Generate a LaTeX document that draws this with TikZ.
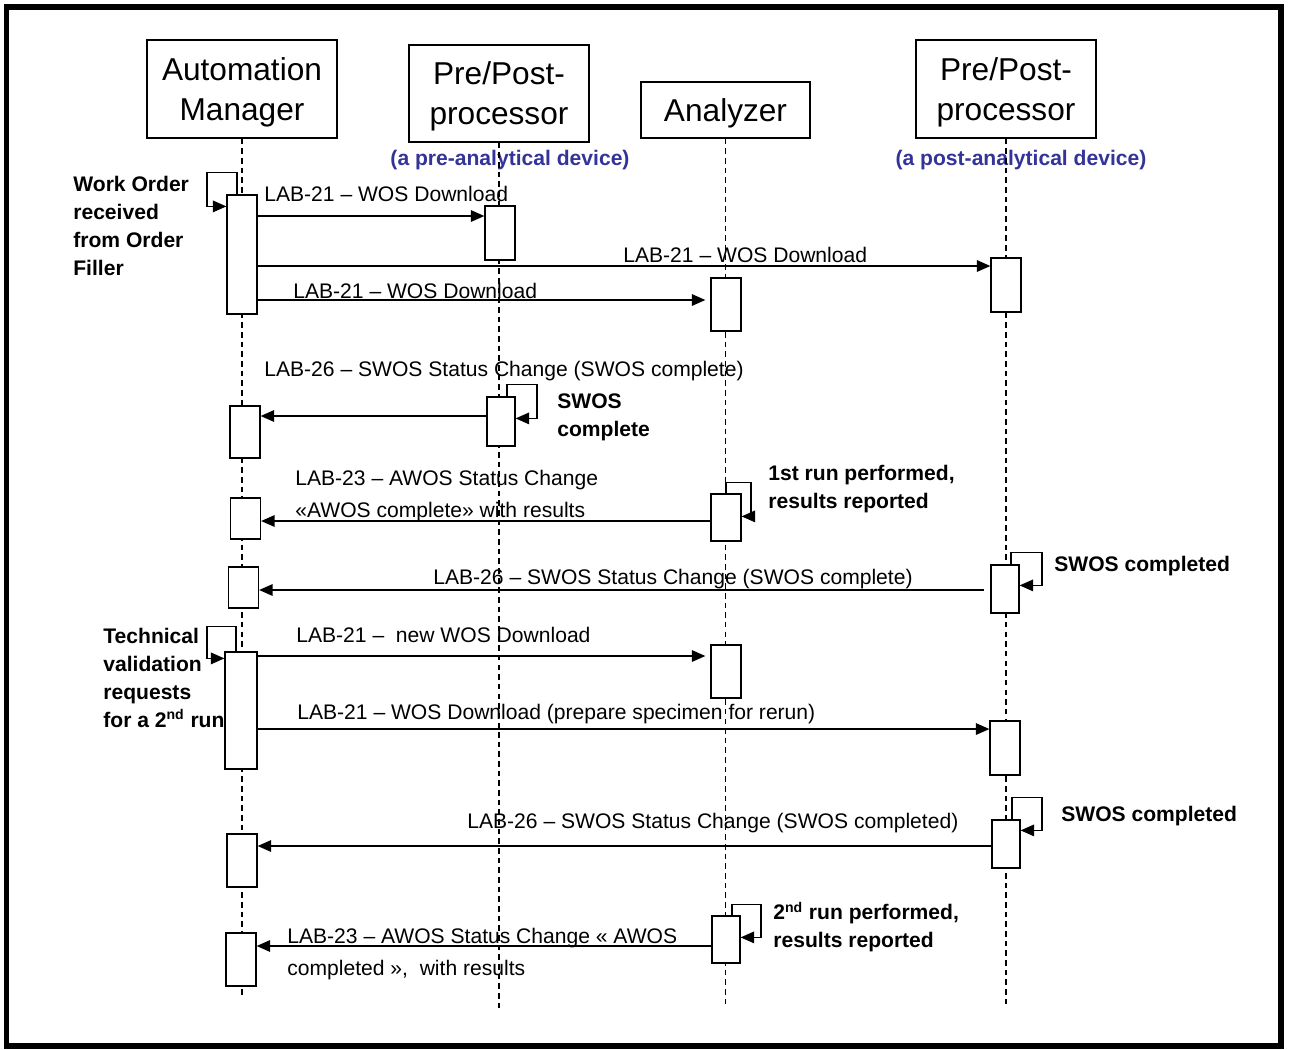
\documentclass[tikz,border=0pt]{standalone}
\usepackage{fontspec}
\setmainfont{Liberation Sans}
\usetikzlibrary{arrows.meta}
\definecolor{bleu}{RGB}{51,51,153}
\tikzset{
  acteur/.style={draw, line width=0.8pt, align=center, inner sep=0pt, text depth=0pt, font=\fontsize{18}{22.8}\selectfont},
  activ/.style={draw, line width=0.7pt, fill=white, minimum width=0.6cm, inner sep=0pt},
  vie/.style={line width=0.6pt, dash pattern=on 3.2pt off 2.3pt},
  msg/.style={line width=0.9pt, -{Triangle[length=0.27cm,width=0.23cm]}},
  lbl/.style={anchor=west, inner sep=0pt, align=left, font=\fontsize{12}{18.2}\selectfont},
  note/.style={anchor=west, inner sep=0pt, align=left, font=\bfseries\fontsize{12}{15.8}\selectfont},
  appareil/.style={inner sep=0pt, text=bleu, font=\bfseries\fontsize{12}{14}\selectfont},
}
\begin{document}
\begin{tikzpicture}[x=0.02cm, y=-0.02cm]
  \useasboundingbox (0,0) rectangle (1290,1049);
  \draw[line width=0.12cm] (6.5,6.5) rectangle (1281,1045.5);

  % Acteurs
  \node[acteur, minimum width=3.8cm, minimum height=1.96cm] (am) at (242,89) {Automation\\Manager};
  \node[acteur, minimum width=3.6cm, minimum height=1.94cm] (pre) at (499,93.5) {Pre/Post-\\processor};
  \node[acteur, minimum width=3.38cm, minimum height=1.12cm] (ana) at (725.5,110) {Analyzer};
  \node[acteur, minimum width=3.6cm, minimum height=1.96cm] (post) at (1006,89) {Pre/Post-\\processor};
  \node[appareil] (dpre) at (510,160) {(a pre-analytical device)};
  \node[appareil] (dpost) at (1021,160) {(a post-analytical device)};

  % Lignes de vie
  \coordinate (amF) at (242,997);
  \coordinate (preF) at (499,1012);
  \coordinate (anaF) at (725.5,1006);
  \coordinate (postF) at (1006,1006);
  \draw[vie] (am.south) -- (amF);
  \draw[vie] (pre.south) -- (preF);
  \draw[vie] (ana.south) -- (anaF);
  \draw[vie] (post.south) -- (postF);

  % Activations
  \node[activ, minimum height=2.38cm] (a1) at (242,254.5) {};
  \node[activ, minimum height=1.04cm] (a2) at (245,432) {};
  \node[activ, minimum height=0.82cm] (a3) at (245.5,518.5) {};
  \node[activ, minimum height=0.82cm] (a4) at (243.5,587.5) {};
  \node[activ, minimum height=2.34cm, minimum width=0.64cm] (a5) at (241,710.5) {};
  \node[activ, minimum height=1.06cm] (a6) at (242,860.5) {};
  \node[activ, minimum height=1.06cm] (a7) at (241,959.5) {};
  \node[activ, minimum height=1.08cm] (p1) at (500,233) {};
  \node[activ, minimum height=0.98cm, minimum width=0.56cm] (p2) at (501,421.5) {};
  \node[activ, minimum height=1.06cm] (n1) at (726,304.5) {};
  \node[activ, minimum height=0.94cm] (n2) at (726,517.5) {};
  \node[activ, minimum height=1.06cm] (n3) at (726,671.5) {};
  \node[activ, minimum height=0.94cm, minimum width=0.56cm] (n4) at (726,939.5) {};
  \node[activ, minimum height=1.08cm] (q1) at (1006,285) {};
  \node[activ, minimum height=0.96cm, minimum width=0.56cm] (q2) at (1005,589) {};
  \node[activ, minimum height=1.08cm] (q3) at (1005,748) {};
  \node[activ, minimum height=0.96cm, minimum width=0.56cm] (q4) at (1006,844) {};

  % Boucles
  \draw[msg] ([xshift=-0.1cm]a1.north) |- ++(-30,-22) |- ([yshift=-0.24cm]a1.north west);
  \draw[msg] ([xshift=0.12cm]p2.north) |- ++(30,-12) |- ([yshift=-0.44cm]p2.north east);
  \draw[msg] (n2.north) |- ++(25,-11) |- ([yshift=-0.46cm]n2.north east);
  \draw[msg] ([xshift=0.12cm]q2.north) |- ++(31,-12) |- ([yshift=-0.42cm]q2.north east);
  \draw[msg] ([xshift=-0.1cm]a5.north) |- ++(-29,-25) |- ([yshift=-0.14cm]a5.north west);
  \draw[msg] ([xshift=0.12cm]q4.north) |- ++(30,-22) |- ([yshift=-0.22cm]q4.north east);
  \draw[msg] ([xshift=0.12cm]n4.north) |- ++(29,-11) |- ([yshift=-0.44cm]n4.north east);

  % Messages
  \coordinate (y1) at (0,216);
  \coordinate (y2) at (0,266);
  \coordinate (y3) at (0,300);
  \coordinate (y4) at (0,416);
  \coordinate (y5) at (0,521);
  \coordinate (y6) at (0,590);
  \coordinate (y7) at (0,656);
  \coordinate (y8) at (0,729);
  \coordinate (y9) at (0,846);
  \coordinate (y10) at (0,946);
  \draw[msg] (a1.east |- y1) -- (p1.west |- y1);
  \draw[msg] (a1.east |- y2) -- (q1.west |- y2);
  \draw[msg, shorten >=0.1cm] (a1.east |- y3) -- (n1.west |- y3);
  \draw[msg] (p2.west |- y4) -- (a2.east |- y4);
  \draw[msg] (n2.west |- y5) -- (a3.east |- y5);
  \draw[msg, shorten <=0.12cm] (q2.west |- y6) -- (a4.east |- y6);
  \draw[msg, shorten >=0.1cm] (a5.east |- y7) -- (n3.west |- y7);
  \draw[msg] (a5.east |- y8) -- (q3.west |- y8);
  \draw[msg] (q4.west |- y9) -- (a6.east |- y9);
  \draw[msg] (n4.west |- y10) -- (a7.east |- y10);

  % Textes
  \node[lbl] (t1) at (264,194) {LAB-21 – WOS Download};
  \node[lbl] (t2) at (623,255) {LAB-21 – WOS Download};
  \node[lbl] (t3) at (293,291) {LAB-21 – WOS Download};
  \node[lbl] (t4) at (264,371) {LAB-26 – SWOS Status Change (SWOS complete)};
  \node[lbl] (t5) at (295,496) {LAB-23 – AWOS Status Change\\«AWOS complete» with results};
  \node[lbl] (t6) at (433,579) {LAB-26 – SWOS Status Change (SWOS complete)};
  \node[lbl] (t7) at (296,635) {LAB-21 – \ new WOS Download};
  \node[lbl] (t8) at (297,714) {LAB-21 – WOS Download (prepare specimen for rerun)};
  \node[lbl] (t9) at (467,823) {LAB-26 – SWOS Status Change (SWOS completed)};
  \node[lbl] (t10) at (287,954) {LAB-23 – AWOS Status Change « AWOS\\completed », \ with results};

  \node[note] (w1) at (73,226) {Work Order\\received\\from Order\\Filler};
  \node[note] (w2) at (557,417) {SWOS\\complete};
  \node[note] (w3) at (768,489) {1st run performed,\\results reported};
  \node[note] (w4) at (1054,566) {SWOS completed};
  \node[note] (w5) at (103,678) {Technical\\validation\\requests\\for a 2\textsuperscript{nd} run};
  \node[note] (w6) at (1061,816) {SWOS completed};
  \node[note] (w7) at (773,927) {2\textsuperscript{nd} run performed,\\results reported};
\end{tikzpicture}
\end{document}
